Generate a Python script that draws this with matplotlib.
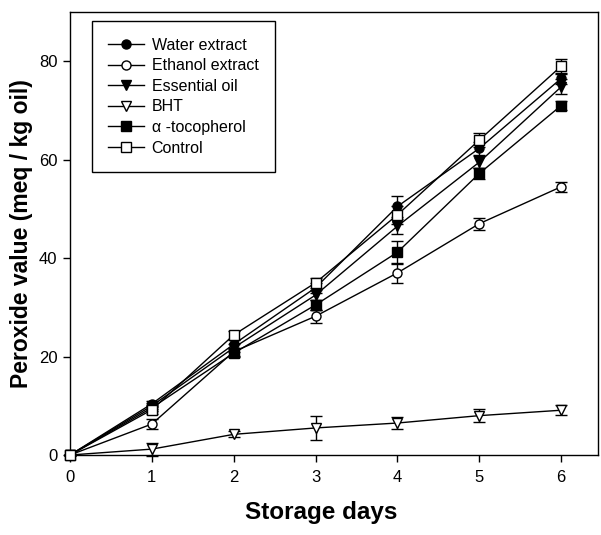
import matplotlib
matplotlib.use("Agg")
import matplotlib.pyplot as plt

plt.rcParams["font.family"] = ["Liberation Sans", "DejaVu Sans"]

DAYS = [0, 1, 2, 3, 4, 5, 6]

WATER = [0, 10.4, 22.5, 34.0, 50.5, 62.3, 76.5]
WATER_ERR = [0, 0.6, 0.8, 1.0, 2.2, 1.3, 1.2]

ETHANOL = [0, 6.3, 21.0, 28.2, 37.0, 47.0, 54.5]
ETHANOL_ERR = [0, 1.0, 0.8, 1.3, 2.0, 1.2, 1.0]

ESSENTIAL = [0, 10.0, 21.8, 32.5, 46.5, 59.5, 74.8]
ESSENTIAL_ERR = [0, 0.6, 0.8, 1.0, 1.5, 1.2, 1.5]

BHT = [0, 1.2, 4.2, 5.5, 6.5, 8.0, 9.1]
BHT_ERR = [0, 1.3, 0.6, 2.4, 1.2, 1.3, 1.0]

ALPHA_TOC = [0, 9.6, 20.7, 30.5, 41.2, 57.2, 71.0]
ALPHA_TOC_ERR = [0, 0.6, 0.8, 1.0, 2.3, 1.2, 1.0]

CONTROL = [0, 9.2, 24.4, 35.0, 48.8, 64.0, 79.0]
CONTROL_ERR = [0, 0.8, 0.8, 1.0, 1.8, 1.5, 1.5]

SERIES = [
    ("Water extract", WATER, WATER_ERR, "o", "black"),
    ("Ethanol extract", ETHANOL, ETHANOL_ERR, "o", "white"),
    ("Essential oil", ESSENTIAL, ESSENTIAL_ERR, "v", "black"),
    ("BHT", BHT, BHT_ERR, "v", "white"),
    ("\u03b1 -tocopherol", ALPHA_TOC, ALPHA_TOC_ERR, "s", "black"),
    ("Control", CONTROL, CONTROL_ERR, "s", "white"),
]

fig = plt.figure(figsize=(6.01, 5.35), dpi=100)
ax = fig.add_axes([0.1165, 0.1495, 0.8785, 0.828])

lines = []
labels = []
for label, y, err, marker, face in SERIES:
    h = ax.errorbar(
        DAYS, y, yerr=err,
        color="black", linewidth=1.0,
        marker=marker, markersize=6.5,
        markerfacecolor=face, markeredgecolor="black", markeredgewidth=1.0,
        ecolor="black", elinewidth=1.0, capsize=4, capthick=1.0,
        clip_on=False, zorder=3,
    )
    # legend shows only line + marker, no error bar
    lines.append(h[0])
    labels.append(label)

ax.set_xlim(0, 6.45)
ax.set_ylim(0, 90)
ax.set_xticks(DAYS)
ax.set_yticks([0, 20, 40, 60, 80])
ax.tick_params(direction="out", length=5, width=1.0, labelsize=12, pad=4)
ax.tick_params(axis="x", pad=6)
for s in ax.spines.values():
    s.set_linewidth(1.0)

ax.set_xlabel("Storage days", fontsize=17.5, fontweight="bold", labelpad=11, x=0.475)
ax.set_ylabel("Peroxide value (meq / kg oil)", fontsize=16.5, fontweight="bold", labelpad=4)

leg = ax.legend(
    lines, labels,
    loc="upper left", bbox_to_anchor=(0.041, 0.98),
    fontsize=11.5, frameon=True, fancybox=False, edgecolor="black",
    handlelength=2.2, handletextpad=0.5, borderpad=1.05, labelspacing=0.35,
    borderaxespad=0.0,
)
leg.get_frame().set_linewidth(1.0)
leg.get_frame().set_alpha(1.0)

fig.savefig("out.png", dpi=100)
